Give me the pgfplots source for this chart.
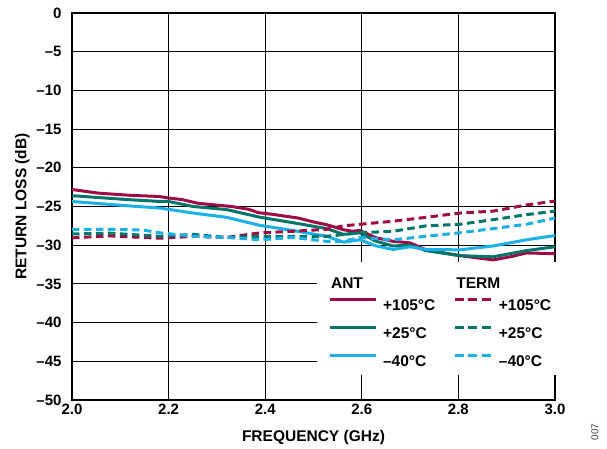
\documentclass[border=0pt]{standalone}
\usepackage{fontspec}
\setmainfont{Liberation Sans}
\usepackage{pgfplots}
\pgfplotsset{compat=1.18}
\definecolor{cmar}{HTML}{9E0B45}
\definecolor{cteal}{HTML}{00766B}
\definecolor{cblue}{HTML}{1CB0E8}
\tikzset{dsh/.style={dash pattern=on 7.5bp off 4.5bp}}
\newcommand{\lfont}{\fontsize{15.5bp}{18bp}\selectfont\bfseries}
\begin{document}
\begin{tikzpicture}
\useasboundingbox (-72bp,-49bp) rectangle (535bp,400bp);
\begin{axis}[
  scale only axis, width=483bp, height=387bp,
  at={(0,0)}, anchor=south west,
  xmin=2.0, xmax=3.0, ymin=-50, ymax=0,
  xtick={2.0,2.2,2.4,2.6,2.8,3.0},
  xticklabels={2.0,2.2,2.4,2.6,2.8,3.0},
  ytick={-50,-45,...,0},
  yticklabels={–50,–45,–40,–35,–30,–25,–20,–15,–10,–5,0},
  major tick length=0pt,
  grid=major,
  grid style={black, line width=0.8bp},
  axis line style={black, line width=2bp},
  tick label style={font=\fontsize{15bp}{17bp}\selectfont\bfseries},
  xticklabel style={yshift=-1bp},
  yticklabel style={xshift=-7bp},
  xlabel={FREQUENCY (GHz)},
  ylabel={RETURN LOSS (dB)},
  label style={font=\lfont},
  xlabel style={yshift=-8bp},
  ylabel style={yshift=0bp},
  legend columns=2,
  legend cell align=left,
  legend style={at={(0.507,0.356)}, anchor=north west, draw=none, fill=white,
    font=\lfont,
    inner xsep=11bp, inner ysep=9bp,
    nodes={inner sep=0pt, text height=11bp, text depth=0bp},
    /tikz/every even column/.append style={column sep=18bp},
    /tikz/every odd column/.append style={column sep=0bp},
    row sep=15.5bp},
  every axis plot/.append style={line width=3bp, line join=round},
]
% ANT +105
\addplot[cmar, forget plot] coordinates {
(2.0,-22.8) (2.054,-23.27) (2.124,-23.57) (2.179,-23.7) (2.2,-23.9) (2.227,-24.1)
(2.262,-24.6) (2.297,-24.8) (2.33,-25.0) (2.365,-25.35) (2.386,-25.8) (2.414,-26.0)
(2.469,-26.5) (2.5,-27.0) (2.527,-27.35) (2.562,-28.0) (2.58,-28.2) (2.596,-28.1)
(2.63,-29.05) (2.665,-29.5) (2.7,-29.7) (2.733,-30.6) (2.803,-31.35) (2.872,-31.9)
(2.907,-31.5) (2.941,-31.0) (3.0,-31.1)};
% ANT +25
\addplot[cteal, forget plot] coordinates {
(2.0,-23.6) (2.113,-24.1) (2.182,-24.35) (2.2,-24.35) (2.251,-25.0) (2.32,-25.4)
(2.39,-26.4) (2.458,-27.1) (2.527,-27.85) (2.562,-28.6) (2.596,-28.4) (2.63,-29.5)
(2.665,-30.1) (2.7,-30.0) (2.733,-30.7) (2.803,-31.35) (2.872,-31.5) (2.941,-30.7)
(3.0,-30.2)};
% ANT -40
\addplot[cblue, forget plot] coordinates {
(2.0,-24.35) (2.113,-24.9) (2.182,-25.2) (2.251,-25.85) (2.32,-26.4) (2.39,-27.45)
(2.458,-28.1) (2.527,-28.85) (2.562,-29.6) (2.596,-29.3) (2.63,-30.1) (2.665,-30.55)
(2.7,-30.2) (2.733,-30.55) (2.803,-30.6) (2.872,-30.1) (2.941,-29.3) (3.0,-28.75)};
% TERM +105
\addplot[cmar, dsh, forget plot] coordinates {
(2.0,-29.05) (2.079,-28.8) (2.182,-29.1) (2.251,-28.85) (2.32,-29.0) (2.39,-28.4)
(2.458,-28.2) (2.527,-27.95) (2.562,-27.5) (2.596,-27.3) (2.665,-26.9) (2.733,-26.4)
(2.803,-25.85) (2.872,-25.6) (2.941,-24.8) (3.0,-24.3)};
% TERM +25
\addplot[cteal, dsh, forget plot] coordinates {
(2.0,-28.55) (2.079,-28.45) (2.182,-28.85) (2.251,-28.6) (2.32,-29.0) (2.39,-28.85)
(2.458,-28.85) (2.527,-28.85) (2.596,-28.4) (2.665,-28.2) (2.733,-27.5) (2.803,-27.3)
(2.872,-26.7) (2.941,-26.05) (3.0,-25.6)};
% TERM -40
\addplot[cblue, dsh, forget plot] coordinates {
(2.0,-27.95) (2.079,-27.95) (2.148,-28.05) (2.182,-28.4) (2.251,-28.85) (2.32,-29.0)
(2.39,-29.3) (2.458,-29.0) (2.527,-29.5) (2.562,-29.5) (2.596,-29.0) (2.665,-29.3)
(2.733,-28.85) (2.803,-28.4) (2.872,-27.85) (2.941,-27.3) (3.0,-26.5)};
\addlegendimage{legend image code/.code={\node[overlay, anchor=west, inner sep=0pt, font=\lfont, text=black] at (0bp,-6bp) {ANT};}}
\addlegendentry{}
\addlegendimage{legend image code/.code={\path[draw=none] (0bp,5bp) -- (44bp,5bp); \node[overlay, anchor=west, inner sep=0pt, font=\lfont, text=black] at (0bp,-6bp) {TERM};}}
\addlegendentry{}
\addlegendimage{legend image code/.code={\draw[cmar, line width=3bp] (0bp,5.5bp) -- (46bp,5.5bp);}}
\addlegendentry{\hspace{6bp}+105°C}
\addlegendimage{legend image code/.code={\draw[cmar, line width=3bp, dash pattern=on 9bp off 4.5bp] (0bp,5.5bp) -- (36bp,5.5bp);}}
\addlegendentry{+105°C}
\addlegendimage{legend image code/.code={\draw[cteal, line width=3bp] (0bp,5.5bp) -- (46bp,5.5bp);}}
\addlegendentry{\hspace{6bp}+25°C}
\addlegendimage{legend image code/.code={\draw[cteal, line width=3bp, dash pattern=on 9bp off 4.5bp] (0bp,5.5bp) -- (36bp,5.5bp);}}
\addlegendentry{+25°C}
\addlegendimage{legend image code/.code={\draw[cblue, line width=3bp] (0bp,5.5bp) -- (46bp,5.5bp);}}
\addlegendentry{\hspace{6bp}–40°C}
\addlegendimage{legend image code/.code={\draw[cblue, line width=3bp, dash pattern=on 9bp off 4.5bp] (0bp,5.5bp) -- (36bp,5.5bp);}}
\addlegendentry{–40°C}
\end{axis}
\node[rotate=90, font=\fontsize{10bp}{11bp}\selectfont, text=black!75] at (523bp,-32bp) {007};
\end{tikzpicture}
\end{document}
